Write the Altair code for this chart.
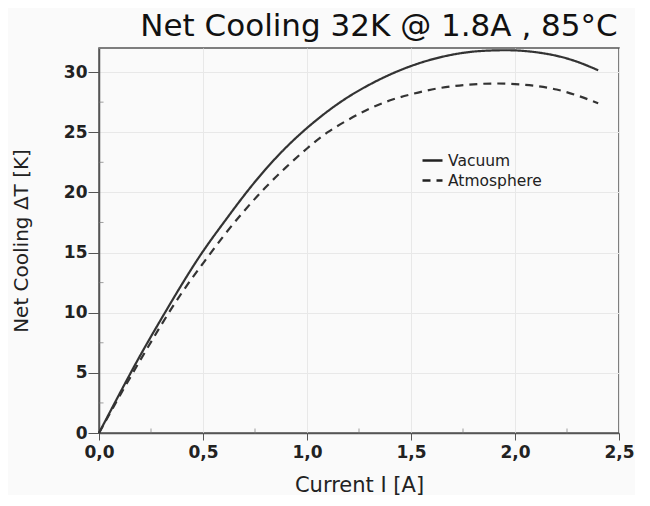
import altair as alt
import pandas as pd

current = [0.0, 0.1, 0.2, 0.3, 0.4, 0.5, 0.6, 0.7, 0.8, 0.9, 1.0, 1.1, 1.2,
           1.3, 1.4, 1.5, 1.6, 1.7, 1.8, 1.9, 2.0, 2.1, 2.2, 2.3, 2.4]
vacuum = [0.0, 3.3, 6.5, 9.5, 12.4, 15.1, 17.5, 19.8, 21.9, 23.75, 25.35, 26.75, 27.95,
          28.95, 29.8, 30.5, 31.05, 31.45, 31.7, 31.8, 31.8, 31.65, 31.35, 30.85, 30.15]
atmosphere = [0.0, 3.1, 6.1, 9.0, 11.7, 14.1, 16.4, 18.5, 20.4, 22.1, 23.65, 25.0, 26.05,
              26.95, 27.65, 28.15, 28.55, 28.82, 28.98, 29.05, 29.0, 28.85, 28.55, 28.05, 27.4]
series_names = ["Vacuum", "Atmosphere"]

x_major = [0.0, 0.5, 1.0, 1.5, 2.0, 2.5]
x_minor = [0.25, 0.75, 1.25, 1.75, 2.25]
y_major = [0, 5, 10, 15, 20, 25, 30]
y_minor = [2.5, 7.5, 12.5, 17.5, 22.5, 27.5]

rows = []
for i, c in enumerate(current):
    rows.append({"I": c, "dT": vacuum[i], "series": series_names[0]})
    rows.append({"I": c, "dT": atmosphere[i], "series": series_names[1]})
df = pd.DataFrame(rows)

FONT = "DejaVu Sans"
W, H = 520, 385
xscale = alt.Scale(domain=[0, 2.5], nice=False, zero=True)
yscale = alt.Scale(domain=[0, 32], nice=False)

lines = alt.Chart(df).mark_line(strokeWidth=2.2, color="#333333", interpolate="natural").encode(
    x=alt.X("I:Q", scale=xscale,
            axis=alt.Axis(values=x_major, title="Current I [A]",
                          labelExpr="replace(format(datum.value, '.1f'), '.', ',')",
                          labelFont=FONT, labelFontWeight="bold", labelFontSize=17,
                          labelColor="#222", titleFont=FONT, titleFontSize=21,
                          titleFontWeight="normal", titleColor="#222", titlePadding=14,
                          grid=True, gridColor="#e8e8e8", tickSize=7, tickColor="#555",
                          domainColor="#555", domainWidth=1.5, labelPadding=4,
                          labelFlush=False)),
    y=alt.Y("dT:Q", scale=yscale,
            axis=alt.Axis(values=y_major, title="Net Cooling \u0394T [K]",
                          labelFont=FONT, labelFontWeight="bold", labelFontSize=17,
                          labelColor="#222", titleFont=FONT, titleFontSize=20,
                          titleFontWeight="normal", titleColor="#222", titlePadding=32,
                          grid=True, gridColor="#e8e8e8", tickSize=11, tickColor="#555",
                          domainColor="#555", domainWidth=1.5, labelPadding=1)),
    strokeDash=alt.StrokeDash(
        "series:N",
        scale=alt.Scale(domain=series_names, range=[[1, 0], [8, 6]]),
        legend=alt.Legend(title=None, orient="none", legendX=322, legendY=101,
                          symbolType="stroke", symbolSize=400, symbolStrokeWidth=2.5,
                          symbolStrokeColor="#222", labelFont=FONT, labelFontSize=15.5,
                          labelColor="#222", rowPadding=0, labelOffset=4)),
    detail="series:N",
)

minor_x = alt.Chart(pd.DataFrame({"I": x_minor})).mark_tick(
    orient="vertical", size=5, color="#777", thickness=1
).encode(x=alt.X("I:Q", scale=xscale), y=alt.value(H - 2))

minor_y = alt.Chart(pd.DataFrame({"dT": y_minor})).mark_tick(
    orient="horizontal", size=5, color="#777", thickness=1
).encode(y=alt.Y("dT:Q", scale=yscale), x=alt.value(2))

chart = alt.layer(lines, minor_x, minor_y).properties(
    width=W, height=H,
    title=alt.Title("Net Cooling 32K @ 1.8A , 85\u00b0C", font=FONT, fontSize=31,
                    fontWeight="normal", color="#111", dx=20, offset=3),
    background="#fafafa",
    padding={"left": 3, "top": 2, "right": 0, "bottom": 0},
).configure_view(stroke="#555", strokeWidth=1.5)

chart.save("out.html", embed_options={"renderer": "svg", "actions": False})
